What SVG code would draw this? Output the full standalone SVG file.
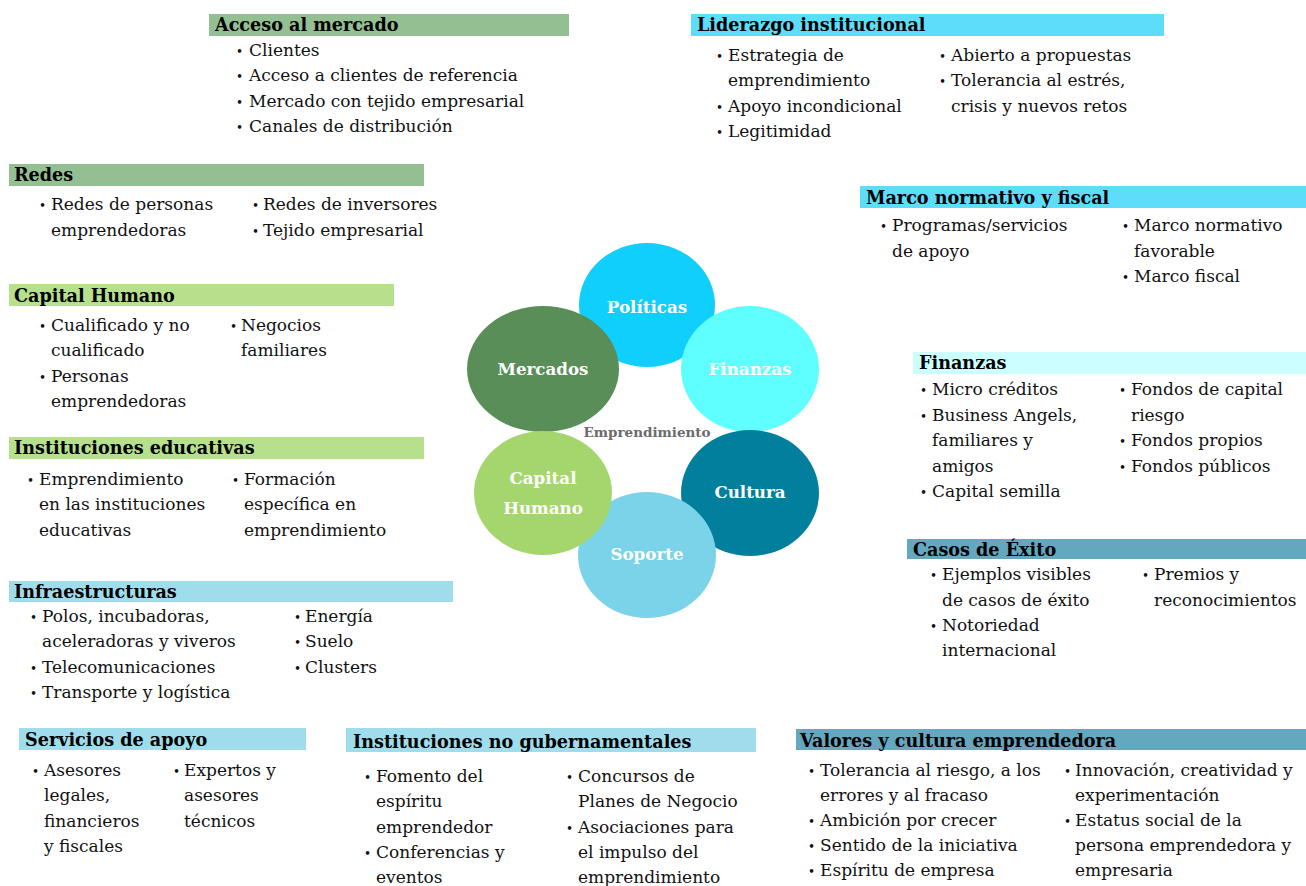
<svg xmlns="http://www.w3.org/2000/svg" width="1306" height="886" viewBox="0 0 1306 886">
<style>
.h{font-family:"DejaVu Serif","Liberation Serif",serif;font-weight:bold;font-size:17.6px;fill:#000}
.t{font-family:"DejaVu Serif","Liberation Serif",serif;font-size:17px;fill:#111}
.b{font-family:"DejaVu Serif","Liberation Serif",serif;font-size:12px;fill:#111}
.c{font-family:"DejaVu Serif","Liberation Serif",serif;font-weight:bold;font-size:16.7px;fill:#fff;text-anchor:middle}
.g1{fill:#93BF93}.g2{fill:#B6E08C}.c1{fill:#5EDDFB}.c2{fill:#9FDDEC}.c3{fill:#64A8C0}.c4{fill:#CCFEFF}
</style>
<rect width="1306" height="886" fill="#fff"/>
<g id="centro">
<ellipse cx="647" cy="305" rx="68" ry="62" fill="#10CFFC"/>
<ellipse cx="750" cy="369" rx="69" ry="63" fill="#60FFFF"/>
<ellipse cx="750" cy="493" rx="69" ry="63" fill="#037F9E"/>
<ellipse cx="647" cy="555" rx="69" ry="63" fill="#7AD3E9"/>
<ellipse cx="543" cy="369" rx="76" ry="63" fill="#5A8E58"/>
<ellipse cx="543" cy="493" rx="69" ry="62" fill="#A5D66E"/>
<text class="c" x="647" y="313">Políticas</text>
<text class="c" x="750" y="375">Finanzas</text>
<text class="c" x="543" y="375">Mercados</text>
<text class="c" x="750" y="498">Cultura</text>
<text class="c" x="647" y="560">Soporte</text>
<text class="c" x="543" y="484">Capital</text>
<text class="c" x="543" y="514">Humano</text>
<text x="647" y="437" text-anchor="middle" style="font-family:'DejaVu Serif',serif;font-weight:bold;font-size:13.5px;fill:#6b6b6b">Emprendimiento</text>
</g>
<g id="connectors"></g>
<g id="acceso">
<rect class="g1" x="209" y="14" width="360" height="22"/>
<text class="h" x="215" y="31">Acceso al mercado</text>
<text class="b" x="236" y="56">•</text><text class="t" x="249" y="56">Clientes</text>
<text class="b" x="236" y="81">•</text><text class="t" x="249" y="81">Acceso a clientes de referencia</text>
<text class="b" x="236" y="107">•</text><text class="t" x="249" y="107">Mercado con tejido empresarial</text>
<text class="b" x="236" y="132">•</text><text class="t" x="249" y="132">Canales de distribución</text>
</g>
<g id="liderazgo">
<rect class="c1" x="691" y="14" width="473" height="22"/>
<text class="h" x="697" y="31">Liderazgo institucional</text>
<text class="b" x="716" y="61">•</text><text class="t" x="728" y="61">Estrategia de</text>
<text class="t" x="728" y="86">emprendimiento</text>
<text class="b" x="716" y="112">•</text><text class="t" x="728" y="112">Apoyo incondicional</text>
<text class="b" x="716" y="137">•</text><text class="t" x="728" y="137">Legitimidad</text>
<text class="b" x="939" y="61">•</text><text class="t" x="951" y="61">Abierto a propuestas</text>
<text class="b" x="939" y="86">•</text><text class="t" x="951" y="86">Tolerancia al estrés,</text>
<text class="t" x="951" y="112">crisis y nuevos retos</text>
</g>
<g id="redes">
<rect class="g1" x="9" y="164" width="415" height="22"/>
<text class="h" x="14" y="181">Redes</text>
<text class="b" x="39" y="210">•</text><text class="t" x="51" y="210">Redes de personas</text>
<text class="t" x="51" y="236">emprendedoras</text>
<text class="b" x="252" y="210">•</text><text class="t" x="263" y="210">Redes de inversores</text>
<text class="b" x="252" y="236">•</text><text class="t" x="263" y="236">Tejido empresarial</text>
</g>
<g id="capital">
<rect class="g2" x="9" y="284" width="385" height="22"/>
<text class="h" x="14" y="302">Capital Humano</text>
<text class="b" x="39" y="331">•</text><text class="t" x="51" y="331">Cualificado y no</text>
<text class="t" x="51" y="356">cualificado</text>
<text class="b" x="39" y="382">•</text><text class="t" x="51" y="382">Personas</text>
<text class="t" x="51" y="407">emprendedoras</text>
<text class="b" x="230" y="331">•</text><text class="t" x="241" y="331">Negocios</text>
<text class="t" x="241" y="356">familiares</text>
</g>
<g id="educativas">
<rect class="g2" x="9" y="437" width="415" height="22"/>
<text class="h" x="14" y="454">Instituciones educativas</text>
<text class="b" x="27" y="485">•</text><text class="t" x="39" y="485">Emprendimiento</text>
<text class="t" x="39" y="510">en las instituciones</text>
<text class="t" x="39" y="536">educativas</text>
<text class="b" x="232" y="485">•</text><text class="t" x="244" y="485">Formación</text>
<text class="t" x="244" y="510">específica en</text>
<text class="t" x="244" y="536">emprendimiento</text>
</g>
<g id="infraestructuras">
<rect class="c2" x="9" y="581" width="444" height="21"/>
<text class="h" x="14" y="598">Infraestructuras</text>
<text class="b" x="30" y="622">•</text><text class="t" x="42" y="622">Polos, incubadoras,</text>
<text class="t" x="42" y="647">aceleradoras y viveros</text>
<text class="b" x="30" y="673">•</text><text class="t" x="42" y="673">Telecomunicaciones</text>
<text class="b" x="30" y="698">•</text><text class="t" x="42" y="698">Transporte y logística</text>
<text class="b" x="294" y="622">•</text><text class="t" x="305" y="622">Energía</text>
<text class="b" x="294" y="647">•</text><text class="t" x="305" y="647">Suelo</text>
<text class="b" x="294" y="673">•</text><text class="t" x="305" y="673">Clusters</text>
</g>
<g id="servicios">
<rect class="c2" x="19" y="728" width="287" height="22"/>
<text class="h" x="25" y="746">Servicios de apoyo</text>
<text class="b" x="32" y="776">•</text><text class="t" x="44" y="776">Asesores</text>
<text class="t" x="44" y="801">legales,</text>
<text class="t" x="44" y="827">financieros</text>
<text class="t" x="44" y="852">y fiscales</text>
<text class="b" x="173" y="776">•</text><text class="t" x="184" y="776">Expertos y</text>
<text class="t" x="184" y="801">asesores</text>
<text class="t" x="184" y="827">técnicos</text>
</g>
<g id="ong">
<rect class="c2" x="346" y="728" width="410" height="24"/>
<text class="h" x="353" y="748">Instituciones no gubernamentales</text>
<text class="b" x="364" y="782">•</text><text class="t" x="376" y="782">Fomento del</text>
<text class="t" x="376" y="807">espíritu</text>
<text class="t" x="376" y="833">emprendedor</text>
<text class="b" x="364" y="858">•</text><text class="t" x="376" y="858">Conferencias y</text>
<text class="t" x="376" y="883">eventos</text>
<text class="b" x="566" y="782">•</text><text class="t" x="578" y="782">Concursos de</text>
<text class="t" x="578" y="807">Planes de Negocio</text>
<text class="b" x="566" y="833">•</text><text class="t" x="578" y="833">Asociaciones para</text>
<text class="t" x="578" y="858">el impulso del</text>
<text class="t" x="578" y="883">emprendimiento</text>
</g>
<g id="valores">
<rect class="c3" x="796" y="729" width="510" height="21"/>
<text class="h" x="800" y="747">Valores y cultura emprendedora</text>
<text class="b" x="808" y="776">•</text><text class="t" x="820" y="776">Tolerancia al riesgo, a los</text>
<text class="t" x="820" y="801">errores y al fracaso</text>
<text class="b" x="808" y="826">•</text><text class="t" x="820" y="826">Ambición por crecer</text>
<text class="b" x="808" y="851">•</text><text class="t" x="820" y="851">Sentido de la iniciativa</text>
<text class="b" x="808" y="876">•</text><text class="t" x="820" y="876">Espíritu de empresa</text>
<text class="b" x="1064" y="776">•</text><text class="t" x="1075" y="776">Innovación, creatividad y</text>
<text class="t" x="1075" y="801">experimentación</text>
<text class="b" x="1064" y="826">•</text><text class="t" x="1075" y="826">Estatus social de la</text>
<text class="t" x="1075" y="851">persona emprendedora y</text>
<text class="t" x="1075" y="876">empresaria</text>
</g>
<g id="marco">
<rect class="c1" x="860" y="186" width="446" height="22"/>
<text class="h" x="866" y="204">Marco normativo y fiscal</text>
<text class="b" x="880" y="231">•</text><text class="t" x="892" y="231">Programas/servicios</text>
<text class="t" x="892" y="257">de apoyo</text>
<text class="b" x="1122" y="231">•</text><text class="t" x="1134" y="231">Marco normativo</text>
<text class="t" x="1134" y="257">favorable</text>
<text class="b" x="1122" y="282">•</text><text class="t" x="1134" y="282">Marco fiscal</text>
</g>
<g id="finanzas">
<rect class="c4" x="913" y="352" width="393" height="22"/>
<text class="h" x="919" y="369">Finanzas</text>
<text class="b" x="920" y="395">•</text><text class="t" x="932" y="395">Micro créditos</text>
<text class="b" x="920" y="421">•</text><text class="t" x="932" y="421">Business Angels,</text>
<text class="t" x="932" y="446">familiares y</text>
<text class="t" x="932" y="472">amigos</text>
<text class="b" x="920" y="497">•</text><text class="t" x="932" y="497">Capital semilla</text>
<text class="b" x="1119" y="395">•</text><text class="t" x="1131" y="395">Fondos de capital</text>
<text class="t" x="1131" y="421">riesgo</text>
<text class="b" x="1119" y="446">•</text><text class="t" x="1131" y="446">Fondos propios</text>
<text class="b" x="1119" y="472">•</text><text class="t" x="1131" y="472">Fondos públicos</text>
</g>
<g id="exito">
<rect class="c3" x="907" y="539" width="399" height="20"/>
<text class="h" x="913" y="556">Casos de Éxito</text>
<text class="b" x="930" y="580">•</text><text class="t" x="942" y="580">Ejemplos visibles</text>
<text class="t" x="942" y="606">de casos de éxito</text>
<text class="b" x="930" y="631">•</text><text class="t" x="942" y="631">Notoriedad</text>
<text class="t" x="942" y="656">internacional</text>
<text class="b" x="1142" y="580">•</text><text class="t" x="1154" y="580">Premios y</text>
<text class="t" x="1154" y="606">reconocimientos</text>
</g>
</svg>
